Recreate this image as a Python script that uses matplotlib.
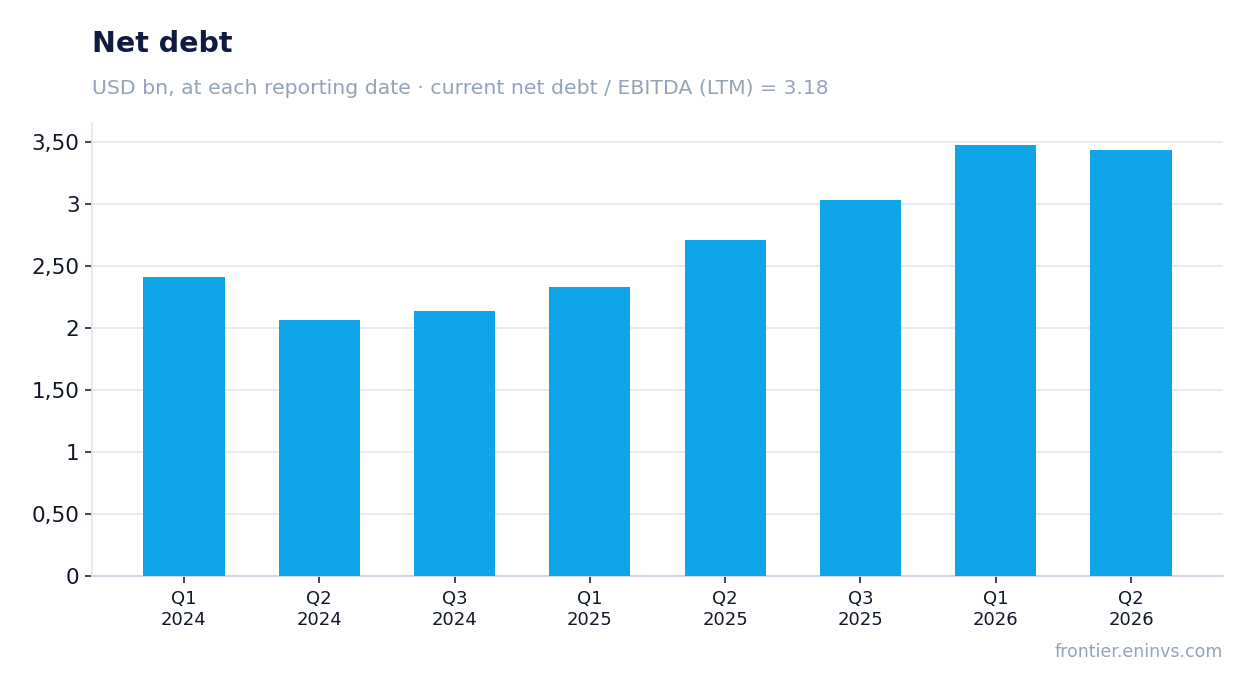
import matplotlib
matplotlib.use("Agg")
import matplotlib.pyplot as plt
from matplotlib.ticker import FuncFormatter, MultipleLocator

quarters = ["Q1\n2024", "Q2\n2024", "Q3\n2024", "Q1\n2025", "Q2\n2025", "Q3\n2025", "Q1\n2026", "Q2\n2026"]
net_debt = [2.41, 2.065, 2.135, 2.33, 2.71, 3.03, 3.475, 3.435]

plt.rcParams['font.family'] = ['DejaVu Sans']

fig = plt.figure(figsize=(12.54, 6.93), dpi=100)
ax = fig.add_axes([92 / 1254, 1 - 576 / 693, (1223 - 92) / 1254, (576 - 123) / 693])

x = range(len(quarters))
ax.bar(x, net_debt, width=0.6, color="#10a5e8", zorder=3)

ax.set_xlim(-0.68, len(quarters) - 1 + 0.68)
ax.set_ylim(0, 3.653)
ax.yaxis.set_major_locator(MultipleLocator(0.5))


def fmt(v, pos):
    # целые без дробной части, остальные с запятой
    if abs(v - round(v)) < 1e-9:
        return str(int(round(v)))
    return ("%.2f" % v).replace(".", ",")


ax.yaxis.set_major_formatter(FuncFormatter(fmt))
ax.set_xticks(list(x))
ax.set_xticklabels(quarters)

ax.grid(axis="y", color="#e2e8f0", linewidth=1.2, zorder=0)
for side in ["top", "right"]:
    ax.spines[side].set_visible(False)
ax.spines["left"].set_color("#e2e8f0")
ax.spines["left"].set_linewidth(1.3)
ax.spines["bottom"].set_color("#cbd5e1")
ax.spines["bottom"].set_linewidth(1.3)
ax.tick_params(axis="y", labelsize=15.5, colors="#1f2937", labelcolor="#111827", length=5, width=1.2, pad=4)
ax.tick_params(axis="x", labelsize=13, colors="#1f2937", labelcolor="#111827", length=5, width=1.2, pad=5)

fig.text(92 / 1254, 1 - 44 / 693, "Net debt", fontsize=20.5, fontweight="bold", color="#0f1b40", va="center")
fig.text(92 / 1254, 1 - 88 / 693, "USD bn, at each reporting date · current net debt / EBITDA (LTM) = 3.18",
         fontsize=14.7, color="#94a3b8", va="center")
fig.text(1223 / 1254, 1 - 652 / 693, "frontier.eninvs.com", fontsize=12.5, color="#94a3b8",
         va="center", ha="right")

fig.savefig("out.png", dpi=100)
